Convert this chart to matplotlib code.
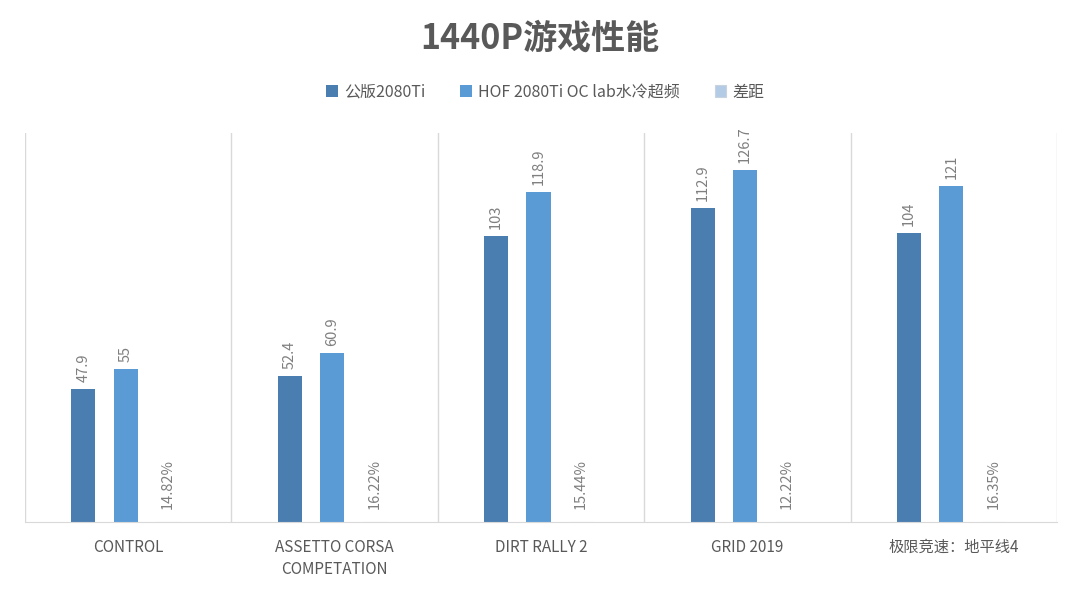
import matplotlib
matplotlib.use("Agg")
import matplotlib.pyplot as plt
import numpy as np

plt.rcParams['font.family'] = ['Noto Sans CJK SC', 'DejaVu Sans']

categories = ["CONTROL", "ASSETTO CORSA\nCOMPETATION", "DIRT RALLY 2", "GRID 2019", "极限竞速：地平线4"]
series_names = ["公版2080Ti", "HOF 2080Ti OC lab水冷超频", "差距"]
stock = [47.9, 52.4, 103, 112.9, 104]
hof = [55, 60.9, 118.9, 126.7, 121]
gap = [14.82, 16.22, 15.44, 12.22, 16.35]  # percent
gap_labels = ["14.82%", "16.22%", "15.44%", "12.22%", "16.35%"]

colors = ["#4a7db0", "#5b9bd5", "#b4cbe6"]
text_gray = "#7f7f7f"

fig = plt.figure(figsize=(10.8, 5.89), dpi=100)
ax = fig.add_axes([25/1080, 1-522/589, (1057-25)/1080, (522-133)/589])

x = np.arange(len(categories))
w = 0.117
off = 0.205
gap_vals = [g/100 for g in gap]

b1 = ax.bar(x - off - 0.012, stock, w, color=colors[0], label=series_names[0])
b2 = ax.bar(x - 0.012, hof, w, color=colors[1], label=series_names[1])
b3 = ax.bar(x + off - 0.012, gap_vals, w, color=colors[2], label=series_names[2],
            edgecolor="#c8d3de", linewidth=0.8)

def fmt(v):
    return ("%g" % v)

for bars, vals in ((b1, stock), (b2, hof)):
    for r, v in zip(bars, vals):
        ax.annotate(fmt(v), (r.get_x() + r.get_width()/2, r.get_height()),
                    xytext=(0, 5), textcoords="offset points", rotation=90,
                    ha="center", va="bottom", fontsize=10.5, color=text_gray)
for r, lab in zip(b3, gap_labels):
    ax.annotate(lab, (r.get_x() + r.get_width()/2, r.get_height()),
                xytext=(0, 9), textcoords="offset points", rotation=90,
                ha="center", va="bottom", fontsize=10.5, color=text_gray)

ax.set_xlim(-0.5, len(categories) - 0.5)
ax.set_ylim(0, 140)
for s in ["top", "right", "left"]:
    ax.spines[s].set_visible(False)
ax.spines["bottom"].set_color("#d9d9d9")
for b in np.arange(-0.5, len(categories), 1.0):
    ax.axvline(b, color="#d9d9d9", lw=1, zorder=0)
ax.set_yticks([])
ax.set_xticks(x)
ax.set_xticklabels(categories, fontsize=11, color="#595959", linespacing=1.4)
ax.tick_params(axis="x", length=0, pad=12)

fig.text(0.5, 1-38/589, "1440P游戏性能", ha="center", va="center",
         fontsize=24.5, fontweight="bold", color="#595959")

leg = fig.legend(handles=[b1, b2, b3], labels=series_names, loc="center",
                 bbox_to_anchor=(0.505, 1-92/589), ncol=3, frameon=False,
                 fontsize=11.5, handlelength=0.7, handleheight=0.7,
                 handletextpad=0.4, columnspacing=2.2)
for t in leg.get_texts():
    t.set_color("#595959")

fig.savefig("out.png", dpi=100)
